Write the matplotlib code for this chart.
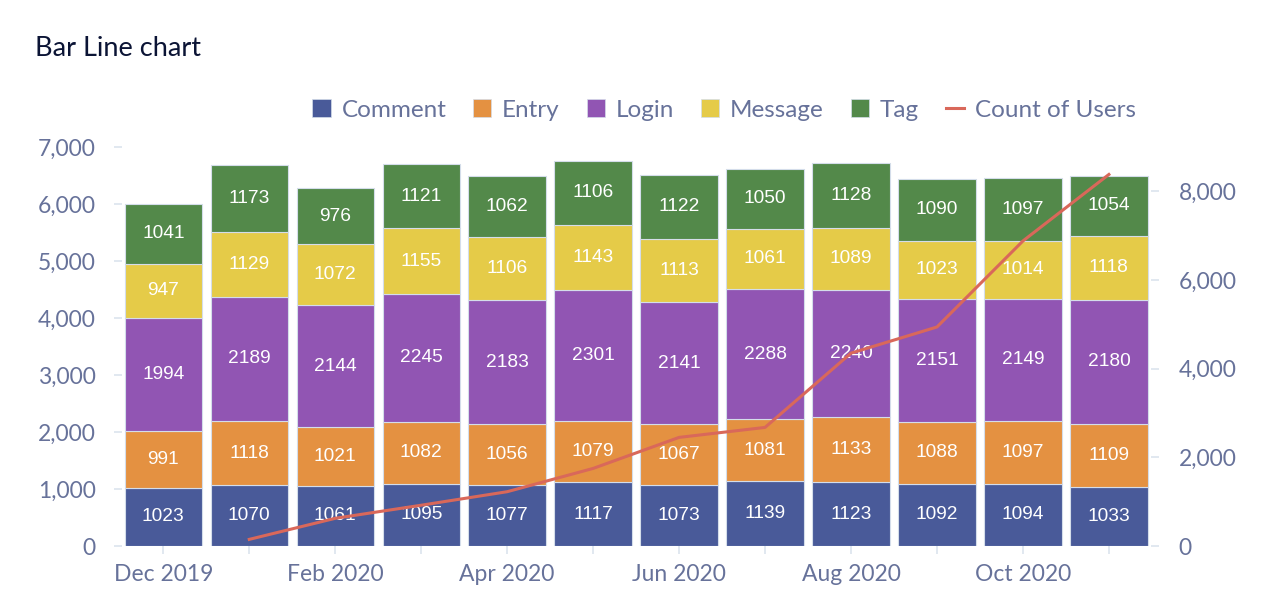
import matplotlib
matplotlib.use("Agg")
import matplotlib.pyplot as plt
import numpy as np
from matplotlib.lines import Line2D
from matplotlib.patches import Patch

months = ["Dec 2019", "Jan 2020", "Feb 2020", "Mar 2020", "Apr 2020", "May 2020",
          "Jun 2020", "Jul 2020", "Aug 2020", "Sep 2020", "Oct 2020", "Nov 2020"]
comment = [1023, 1070, 1061, 1095, 1077, 1117, 1073, 1139, 1123, 1092, 1094, 1033]
entry = [991, 1118, 1021, 1082, 1056, 1079, 1067, 1081, 1133, 1088, 1097, 1109]
login = [1994, 2189, 2144, 2245, 2183, 2301, 2141, 2288, 2240, 2151, 2149, 2180]
message = [947, 1129, 1072, 1155, 1106, 1143, 1113, 1061, 1089, 1023, 1014, 1118]
tag = [1041, 1173, 976, 1121, 1062, 1106, 1122, 1050, 1128, 1090, 1097, 1054]
users = [np.nan, 150, 625, 920, 1225, 1750, 2450, 2675, 4350, 4940, 6880, 8380]

series_names = ["Comment", "Entry", "Login", "Message", "Tag"]
series = [comment, entry, login, message, tag]
colors = ["#495A99", "#E49141", "#9155B3", "#E5CB48", "#53894A"]
line_color = "#D9685A"
tick_color = "#67729A"
grid_tick = "#DCE4EE"

fig = plt.figure(figsize=(12.7, 6.16), dpi=100)
ax = fig.add_axes([0.0961, 0.1136, 0.9063 - 0.0961, 0.7614 - 0.1136])
ax2 = ax.twinx()

x = np.arange(len(months))
bottom = np.zeros(len(months))
for name, vals, c in zip(series_names, series, colors):
    vals = np.array(vals, dtype=float)
    ax.bar(x, vals, 0.9, bottom=bottom, color=c, edgecolor="#D4DDEA",
           linewidth=0.8, label=name, zorder=2)
    for xi, b, v in zip(x, bottom, vals):
        ax.text(xi, b + v / 2, f"{int(v)}", ha="center", va="center", color="white",
                fontsize=13.8, family=["Liberation Sans", "DejaVu Sans"], zorder=3)
    bottom += vals

ax2.plot(x, users, color=line_color, linewidth=2.2, zorder=5)
ax.set_zorder(1)
ax2.set_zorder(2)
ax2.patch.set_visible(False)

ax.set_xlim(-0.48, 11.49)
ax.set_ylim(0, 7000)
ax2.set_ylim(0, 9000)
ax.set_yticks(range(0, 7001, 1000))
ax.set_yticklabels([f"{v:,}" for v in range(0, 7001, 1000)])
ax2.set_yticks(range(0, 8001, 2000))
ax2.set_yticklabels([f"{v:,}" for v in range(0, 8001, 2000)])
ax.set_xticks(x)
ax.set_xticklabels([m if i % 2 == 0 else "" for i, m in enumerate(months)])

for a in (ax, ax2):
    for s in a.spines.values():
        s.set_visible(False)
    a.tick_params(axis="both", colors=grid_tick, labelcolor=tick_color,
                  labelsize=16.5, length=6, width=1.2)
    for lab in a.get_xticklabels() + a.get_yticklabels():
        lab.set_family(["Lato", "DejaVu Sans"])
ax.tick_params(axis="y", pad=13)
ax2.tick_params(axis="y", pad=14)
ax.tick_params(axis="x", pad=7)

fig.text(35 / 1270, 1 - 48 / 616, "Bar Line chart", fontsize=19.5, color="#0B1435",
         family=["Lato", "DejaVu Sans"], ha="left", va="center")

handles = [Patch(facecolor=c, edgecolor="#D4DDEA", linewidth=0.5) for c in colors]
handles.append(Line2D([0], [0], color=line_color, linewidth=2.2))
labels = series_names + ["Count of Users"]
leg = fig.legend(handles, labels, loc="center", bbox_to_anchor=(724 / 1270, 1 - 110 / 616),
                 ncol=6, frameon=False, handlelength=0.75, handleheight=0.75,
                 handletextpad=0.45, columnspacing=1.1,
                 prop={"family": ["Lato", "DejaVu Sans"], "size": 17.5})
for t in leg.get_texts():
    t.set_color(tick_color)

fig.savefig("out.png", dpi=100)
